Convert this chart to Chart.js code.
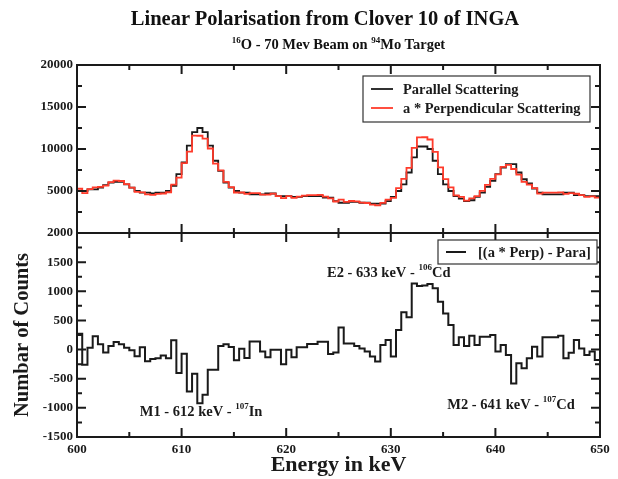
<!DOCTYPE html>
<html>
<head>
<meta charset="utf-8">
<title>Linear Polarisation - Clover 10</title>
<script src="https://cdn.jsdelivr.net/npm/chart.js@4.4.1/dist/chart.umd.min.js"></script>
<style>
  body { margin: 0; background: #fff; }
  #wrap { position: relative; width: 618px; height: 479px; }
  #chart { position: absolute; left: 0; top: 0; }
  .ttl {
    position: absolute; text-align: center;
    font-family: "Liberation Serif", "DejaVu Serif", serif; font-weight: bold; color: #111;
  }
  #title { top: 7px; left: 60px; width: 530px; font-size: 20.5px; }
  #sub { top: 35px; left: 77px; width: 523px; font-size: 14.5px; }
  #sub sup { font-size: 9px; }
</style>
</head>
<body>
<div id="wrap">
  <canvas id="chart" width="618" height="479"></canvas>
  <div class="ttl" id="title">Linear Polarisation from Clover 10 of INGA</div>
  <div class="ttl" id="sub"><sup>16</sup>O - 70 Mev Beam on <sup>94</sup>Mo Target</div>
</div>

<script>
// ---- DATA (0.5 keV bins from 600 keV) ----
const BIN_START = 600;
const BIN_WIDTH = 0.5;

// counts per bin, parallel scattering (black)
const parallelCounts = [
  5000, 5000, 5200, 5200, 5400, 5700, 6000, 6100, 6100, 5800,
  5400, 5000, 4800, 4800, 4700, 4800, 4800, 5000, 5600, 7000,
  8400, 10400, 12000, 12500, 12000, 10400, 8600, 7400, 6000, 5400,
  5000, 4800, 4800, 4600, 4600, 4600, 4700, 4700, 4400, 4400,
  4400, 4300, 4300, 4400, 4400, 4400, 4400, 4200, 4200, 3800,
  3600, 3600, 3700, 3700, 3600, 3600, 3500, 3500, 3500, 3800,
  4300, 5000, 5800, 7200, 9000, 10300, 10300, 10000, 8600, 7000,
  5800, 5000, 4400, 4100, 3800, 3900, 4300, 4800, 5500, 6200,
  7000, 7800, 8200, 8200, 7200, 6400, 5900, 5300, 4800, 4600,
  4600, 4600, 4600, 4800, 4800, 4500, 4500, 4400, 4400, 4400
];

// a * perpendicular scattering (red)
const perpCounts = [
  5270, 4740, 5230, 5430, 5490, 5650, 6060, 6230, 6190, 5830,
  5390, 4890, 4840, 4600, 4540, 4650, 4700, 4850, 5760, 6600,
  8330, 9680, 11590, 11580, 11230, 10060, 8260, 7460, 6090, 5450,
  4820, 4820, 4660, 4740, 4740, 4570, 4570, 4690, 4390, 4150,
  4390, 4170, 4340, 4440, 4500, 4500, 4540, 4340, 4130, 3750,
  3980, 3710, 3810, 3760, 3620, 3570, 3380, 3290, 3580, 3970,
  4180, 5340, 6440, 7750, 10140, 11390, 11400, 11130, 9650, 7820,
  6420, 5420, 4480, 4310, 3860, 4130, 4380, 5020, 5720, 6450,
  6970, 7880, 8110, 7620, 6960, 6080, 5750, 5350, 4680, 4810,
  4810, 4810, 4830, 4650, 4750, 4670, 4520, 4310, 4370, 4220
];

// (a * Perp) - Para
const diffCounts = [
  270, -260, 30, 230, 90, -50, 60, 130, 90, 30,
  -10, -115, 40, -200, -160, -150, -100, -150, 160, -400,
  -70, -720, -415, -920, -775, -345, -345, 60, 90, 45,
  -185, 15, -145, 140, 140, -35, -130, -5, -5, -250,
  -5, -130, 40, 40, 95, 95, 135, 135, -75, -50,
  380, 105, 105, 60, 20, -35, -120, -205, 80, 165,
  -120, 335, 640, 555, 1135, 1090, 1100, 1125, 1050, 820,
  620, 420, 80, 210, 60, 235, 80, 220, 220, 250,
  -35, 80, -95, -580, -235, -320, -150, 50, -120, 210,
  210, 210, 235, -150, -55, 165, 20, -95, -35, -180
];

// tick labels
const energyTicks = [600, 610, 620, 630, 640, 650];
const topTicks = [0, 5000, 10000, 15000, 20000];
const bottomTicks = [-1500, -1000, -500, 0, 500, 1000, 1500, 2000];

// annotation texts  [energy, counts, parts]
const peakNotes = [
  [606.0, -1140, [['M1 - 612 keV - '], ['107', true], ['In']]],
  [623.9, 1245, [['E2 - 633 keV - '], ['106', true], ['Cd']]],
  [635.4, -1020, [['M2 - 641 keV - '], ['107', true], ['Cd']]]
];

const SERIF = '"Liberation Serif", "DejaVu Serif", serif';
const INK = '#1a1a1a';
const RED = '#ff3b2b';

// bins -> stepped points (left edges + closing edge)
function toSteps(values) {
  const pts = values.map((v, i) => ({ x: BIN_START + i * BIN_WIDTH, y: v }));
  pts.push({ x: BIN_START + values.length * BIN_WIDTH, y: values[values.length - 1] });
  return pts;
}

// ---- text with superscripts ----
function drawParts(ctx, parts, x, y, size) {
  let cx = x;
  parts.forEach(([txt, sup]) => {
    ctx.font = 'bold ' + (sup ? Math.round(size * 0.6) : size) + 'px ' + SERIF;
    ctx.fillText(txt, cx, sup ? y - size * 0.45 : y);
    cx += ctx.measureText(txt).width;
  });
}

// ---- PLUGIN: frames, inward ticks, legends, notes ----
const panelDecor = {
  id: 'panelDecor',
  afterDatasetsDraw(chart) {
    const ctx = chart.ctx;
    const area = chart.chartArea;
    const xs = chart.scales.x;
    const panels = [chart.scales.yT, chart.scales.yB];

    ctx.save();
    ctx.strokeStyle = INK;
    ctx.lineWidth = 2;

    panels.forEach(ys => {
      const top = ys.top, bot = ys.bottom;
      ctx.strokeRect(area.left, top, area.right - area.left, bot - top);

      ctx.beginPath();
      // x ticks, top and bottom edge of each panel
      for (let e = energyTicks[0]; e <= energyTicks[energyTicks.length - 1]; e += 5) {
        const px = xs.getPixelForValue(e);
        const len = e % 10 === 0 ? 9 : 5;
        ctx.moveTo(px, bot); ctx.lineTo(px, bot - len);
        ctx.moveTo(px, top); ctx.lineTo(px, top + len);
      }
      // y ticks, left and right
      const vals = ys.ticks.map(t => t.value);
      const step = vals[1] - vals[0];
      for (let v = vals[0]; v <= vals[vals.length - 1]; v += step / 2) {
        const py = ys.getPixelForValue(v);
        const len = (v - vals[0]) % step === 0 ? 9 : 5;
        ctx.moveTo(area.left, py); ctx.lineTo(area.left + len, py);
        ctx.moveTo(area.right, py); ctx.lineTo(area.right - len, py);
      }
      ctx.stroke();
    });

    // legend, top panel
    const yT = chart.scales.yT;
    let x1 = area.right - 10, x0 = x1 - 227, y0 = yT.top + 11;
    ctx.fillStyle = '#fff';
    ctx.fillRect(x0, y0, x1 - x0, 46);
    ctx.lineWidth = 1.2;
    ctx.strokeStyle = '#333';
    ctx.strokeRect(x0, y0, x1 - x0, 46);
    [[INK, 'Parallel Scattering', 13], [RED, 'a * Perpendicular Scattering', 32]].forEach(([c, txt, dy]) => {
      ctx.strokeStyle = c;
      ctx.lineWidth = 1.8;
      ctx.beginPath();
      ctx.moveTo(x0 + 8, y0 + dy); ctx.lineTo(x0 + 30, y0 + dy);
      ctx.stroke();
      ctx.fillStyle = INK;
      ctx.textBaseline = 'middle';
      ctx.font = 'bold 14.5px ' + SERIF;
      ctx.fillText(txt, x0 + 40, y0 + dy + 1);
    });

    // legend, bottom panel
    const yB = chart.scales.yB;
    x1 = area.right - 3; x0 = x1 - 159; y0 = yB.top + 7;
    ctx.fillStyle = '#fff';
    ctx.fillRect(x0, y0, x1 - x0, 24);
    ctx.lineWidth = 1.2;
    ctx.strokeStyle = '#333';
    ctx.strokeRect(x0, y0, x1 - x0, 24);
    ctx.strokeStyle = INK;
    ctx.lineWidth = 2;
    ctx.beginPath();
    ctx.moveTo(x0 + 8, y0 + 12); ctx.lineTo(x0 + 28, y0 + 12);
    ctx.stroke();
    ctx.fillStyle = INK;
    ctx.font = 'bold 14.5px ' + SERIF;
    ctx.fillText('[(a * Perp) - Para]', x0 + 40, y0 + 13);

    // peak notes
    ctx.textBaseline = 'alphabetic';
    peakNotes.forEach(([e, c, parts]) => {
      drawParts(ctx, parts, xs.getPixelForValue(e), yB.getPixelForValue(c), 14.5);
    });
    ctx.restore();
  }
};

// ---- CHART ----
const tickFont = { family: SERIF, size: 13, weight: 'bold' };
const fixWidth = s => { s.width = 77; };

new Chart(document.getElementById('chart'), {
  type: 'line',
  data: {
    datasets: [
      { label: 'a * Perpendicular Scattering', data: toSteps(perpCounts), yAxisID: 'yT',
        borderColor: RED, borderWidth: 1.8, order: 0 },
      { label: 'Parallel Scattering', data: toSteps(parallelCounts), yAxisID: 'yT',
        borderColor: INK, borderWidth: 1.8, order: 1 },
      { label: '[(a * Perp) - Para]', data: toSteps(diffCounts), yAxisID: 'yB',
        borderColor: INK, borderWidth: 2, order: 2 }
    ]
  },
  options: {
    responsive: false,
    animation: false,
    devicePixelRatio: 1,
    parsing: false,
    datasets: { line: { stepped: true, pointRadius: 0, fill: false } },
    layout: { padding: { top: 65, right: 18, bottom: 0, left: 0 } },
    plugins: { legend: { display: false }, tooltip: { enabled: false } },
    scales: {
      x: {
        type: 'linear', position: 'bottom', min: 600, max: 650,
        grid: { display: false, drawTicks: false }, border: { display: false },
        afterBuildTicks: s => { s.ticks = energyTicks.map(v => ({ value: v })); },
        afterFit: s => { s.height = 42; },
        ticks: { font: tickFont, color: INK, padding: 5, autoSkip: false, maxRotation: 0,
          callback: v => String(v) },
        title: { display: true, text: 'Energy in keV', color: INK,
          font: { family: SERIF, size: 22, weight: 'bold' }, padding: { top: 0, bottom: 0 } }
      },
      yB: {
        type: 'linear', position: 'left', stack: 'panels', stackWeight: 204,
        min: -1500, max: 2000,
        grid: { display: false, drawTicks: false }, border: { display: false },
        afterBuildTicks: s => { s.ticks = bottomTicks.map(v => ({ value: v })); },
        afterFit: fixWidth,
        ticks: { font: tickFont, color: INK, padding: 4, autoSkip: false, callback: v => String(v) },
        title: { display: true, text: 'Numbar of Counts', color: INK,
          font: { family: SERIF, size: 20.5, weight: 'bold' }, padding: { top: 10, bottom: 0 } }
      },
      yT: {
        type: 'linear', position: 'left', stack: 'panels', stackWeight: 168,
        min: 0, max: 20000,
        grid: { display: false, drawTicks: false }, border: { display: false },
        afterBuildTicks: s => { s.ticks = topTicks.map(v => ({ value: v })); },
        afterFit: fixWidth,
        ticks: { font: tickFont, color: INK, padding: 4, autoSkip: false,
          callback: v => v === 0 ? '' : String(v) }
      }
    }
  },
  plugins: [panelDecor]
});
</script>
</body>
</html>
